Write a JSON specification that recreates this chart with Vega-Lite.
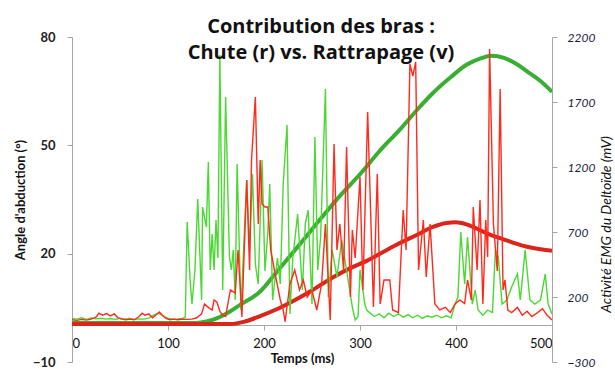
{
  "$schema": "https://vega.github.io/schema/vega-lite/v6.json",
  "autosize": "none",
  "width": 480,
  "height": 325,
  "padding": {"left": 72, "top": 37, "right": 63, "bottom": 7},
  "background": "white",
  "config": {"view": {"stroke": null}, "font": "Lato"},
  "title": {
    "text": ["Contribution des bras :", "Chute (r) vs. Rattrapage (v)"],
    "font": "Open Sans",
    "fontSize": 20,
    "fontWeight": "bold",
    "color": "#111111",
    "lineHeight": 26,
    "anchor": "middle",
    "dx": 9,
    "offset": -32
  },
  "datasets": {
    "angle": [
      {"t": 0, "a": 0.8, "s": "Rattrapage angle"}, {"t": 130, "a": 0.8, "s": "Rattrapage angle"}, {"t": 140, "a": 1.2, "s": "Rattrapage angle"}, {"t": 150, "a": 2, "s": "Rattrapage angle"}, {"t": 161, "a": 3.4, "s": "Rattrapage angle"}, {"t": 175, "a": 5.8, "s": "Rattrapage angle"}, {"t": 196, "a": 9.5, "s": "Rattrapage angle"}, {"t": 215, "a": 15.5, "s": "Rattrapage angle"}, {"t": 237, "a": 22.5, "s": "Rattrapage angle"}, {"t": 260, "a": 30, "s": "Rattrapage angle"}, {"t": 280, "a": 36.3, "s": "Rattrapage angle"}, {"t": 300, "a": 42, "s": "Rattrapage angle"}, {"t": 320, "a": 48.3, "s": "Rattrapage angle"}, {"t": 342, "a": 54.5, "s": "Rattrapage angle"}, {"t": 360, "a": 60, "s": "Rattrapage angle"}, {"t": 376, "a": 64.5, "s": "Rattrapage angle"}, {"t": 395, "a": 69, "s": "Rattrapage angle"}, {"t": 411, "a": 72.3, "s": "Rattrapage angle"}, {"t": 425, "a": 74, "s": "Rattrapage angle"}, {"t": 437, "a": 74.8, "s": "Rattrapage angle"}, {"t": 450, "a": 74.2, "s": "Rattrapage angle"}, {"t": 463, "a": 72.5, "s": "Rattrapage angle"}, {"t": 475, "a": 70.3, "s": "Rattrapage angle"}, {"t": 488, "a": 67.8, "s": "Rattrapage angle"}, {"t": 500, "a": 64.8, "s": "Rattrapage angle"},
      {"t": 0, "a": 0.5, "s": "Chute angle"}, {"t": 165, "a": 0.5, "s": "Chute angle"}, {"t": 180, "a": 1.2, "s": "Chute angle"}, {"t": 196, "a": 2.7, "s": "Chute angle"}, {"t": 215, "a": 4.8, "s": "Chute angle"}, {"t": 230, "a": 6.8, "s": "Chute angle"}, {"t": 248, "a": 9.5, "s": "Chute angle"}, {"t": 272, "a": 13.5, "s": "Chute angle"}, {"t": 290, "a": 16, "s": "Chute angle"}, {"t": 307, "a": 18, "s": "Chute angle"}, {"t": 325, "a": 20.6, "s": "Chute angle"}, {"t": 342, "a": 23, "s": "Chute angle"}, {"t": 360, "a": 25.3, "s": "Chute angle"}, {"t": 376, "a": 27.4, "s": "Chute angle"}, {"t": 390, "a": 28.5, "s": "Chute angle"}, {"t": 400, "a": 28.7, "s": "Chute angle"}, {"t": 410, "a": 28.2, "s": "Chute angle"}, {"t": 422, "a": 26.9, "s": "Chute angle"}, {"t": 434, "a": 25.4, "s": "Chute angle"}, {"t": 446, "a": 24.3, "s": "Chute angle"}, {"t": 460, "a": 23, "s": "Chute angle"}, {"t": 474, "a": 21.9, "s": "Chute angle"}, {"t": 488, "a": 21.2, "s": "Chute angle"}, {"t": 500, "a": 20.8, "s": "Chute angle"}
    ],
    "emg": [
      {"t": 0, "v": 35, "s": "Rattrapage EMG"}, {"t": 5, "v": 30, "s": "Rattrapage EMG"}, {"t": 10, "v": 40, "s": "Rattrapage EMG"}, {"t": 15, "v": 28, "s": "Rattrapage EMG"}, {"t": 20, "v": 38, "s": "Rattrapage EMG"}, {"t": 25, "v": 32, "s": "Rattrapage EMG"}, {"t": 30, "v": 36, "s": "Rattrapage EMG"}, {"t": 35, "v": 30, "s": "Rattrapage EMG"}, {"t": 40, "v": 34, "s": "Rattrapage EMG"}, {"t": 45, "v": 28, "s": "Rattrapage EMG"}, {"t": 50, "v": 36, "s": "Rattrapage EMG"}, {"t": 55, "v": 30, "s": "Rattrapage EMG"}, {"t": 60, "v": 34, "s": "Rattrapage EMG"}, {"t": 65, "v": 28, "s": "Rattrapage EMG"}, {"t": 70, "v": 32, "s": "Rattrapage EMG"}, {"t": 75, "v": 30, "s": "Rattrapage EMG"}, {"t": 80, "v": 38, "s": "Rattrapage EMG"}, {"t": 85, "v": 60, "s": "Rattrapage EMG"}, {"t": 90, "v": 75, "s": "Rattrapage EMG"}, {"t": 95, "v": 55, "s": "Rattrapage EMG"}, {"t": 100, "v": 35, "s": "Rattrapage EMG"}, {"t": 105, "v": 30, "s": "Rattrapage EMG"}, {"t": 110, "v": 32, "s": "Rattrapage EMG"}, {"t": 115, "v": 35, "s": "Rattrapage EMG"}, {"t": 118, "v": 45, "s": "Rattrapage EMG"}, {"t": 120, "v": 777, "s": "Rattrapage EMG"}, {"t": 123, "v": 330, "s": "Rattrapage EMG"}, {"t": 125, "v": 146, "s": "Rattrapage EMG"}, {"t": 128, "v": 400, "s": "Rattrapage EMG"}, {"t": 131, "v": 954, "s": "Rattrapage EMG"}, {"t": 135, "v": 177, "s": "Rattrapage EMG"}, {"t": 136, "v": 892, "s": "Rattrapage EMG"}, {"t": 140, "v": 738, "s": "Rattrapage EMG"}, {"t": 142, "v": 1238, "s": "Rattrapage EMG"}, {"t": 144, "v": 408, "s": "Rattrapage EMG"}, {"t": 146, "v": 685, "s": "Rattrapage EMG"}, {"t": 148, "v": 408, "s": "Rattrapage EMG"}, {"t": 150, "v": 792, "s": "Rattrapage EMG"}, {"t": 152, "v": 500, "s": "Rattrapage EMG"}, {"t": 154, "v": 2062, "s": "Rattrapage EMG"}, {"t": 157, "v": 254, "s": "Rattrapage EMG"}, {"t": 160, "v": 1738, "s": "Rattrapage EMG"}, {"t": 164, "v": 508, "s": "Rattrapage EMG"}, {"t": 166, "v": 408, "s": "Rattrapage EMG"}, {"t": 168, "v": 562, "s": "Rattrapage EMG"}, {"t": 170, "v": 177, "s": "Rattrapage EMG"}, {"t": 172, "v": 1223, "s": "Rattrapage EMG"}, {"t": 176, "v": 100, "s": "Rattrapage EMG"}, {"t": 179, "v": 608, "s": "Rattrapage EMG"}, {"t": 182, "v": 1100, "s": "Rattrapage EMG"}, {"t": 185, "v": 562, "s": "Rattrapage EMG"}, {"t": 188, "v": 1146, "s": "Rattrapage EMG"}, {"t": 191, "v": 454, "s": "Rattrapage EMG"}, {"t": 194, "v": 300, "s": "Rattrapage EMG"}, {"t": 198, "v": 1254, "s": "Rattrapage EMG"}, {"t": 201, "v": 400, "s": "Rattrapage EMG"}, {"t": 204, "v": 700, "s": "Rattrapage EMG"}, {"t": 206, "v": 1069, "s": "Rattrapage EMG"}, {"t": 209, "v": 177, "s": "Rattrapage EMG"}, {"t": 214, "v": 500, "s": "Rattrapage EMG"}, {"t": 217, "v": 300, "s": "Rattrapage EMG"}, {"t": 220, "v": 1069, "s": "Rattrapage EMG"}, {"t": 224, "v": 1523, "s": "Rattrapage EMG"}, {"t": 227, "v": 69, "s": "Rattrapage EMG"}, {"t": 230, "v": 500, "s": "Rattrapage EMG"}, {"t": 233, "v": 700, "s": "Rattrapage EMG"}, {"t": 235, "v": 838, "s": "Rattrapage EMG"}, {"t": 240, "v": 254, "s": "Rattrapage EMG"}, {"t": 243, "v": 762, "s": "Rattrapage EMG"}, {"t": 246, "v": 869, "s": "Rattrapage EMG"}, {"t": 250, "v": 146, "s": "Rattrapage EMG"}, {"t": 253, "v": 1431, "s": "Rattrapage EMG"}, {"t": 256, "v": 408, "s": "Rattrapage EMG"}, {"t": 259, "v": 662, "s": "Rattrapage EMG"}, {"t": 264, "v": 1800, "s": "Rattrapage EMG"}, {"t": 267, "v": 200, "s": "Rattrapage EMG"}, {"t": 271, "v": 562, "s": "Rattrapage EMG"}, {"t": 276, "v": 354, "s": "Rattrapage EMG"}, {"t": 281, "v": 638, "s": "Rattrapage EMG"}, {"t": 286, "v": 408, "s": "Rattrapage EMG"}, {"t": 292, "v": 123, "s": "Rattrapage EMG"}, {"t": 295, "v": 23, "s": "Rattrapage EMG"}, {"t": 298, "v": 50, "s": "Rattrapage EMG"}, {"t": 300, "v": 408, "s": "Rattrapage EMG"}, {"t": 303, "v": 254, "s": "Rattrapage EMG"}, {"t": 305, "v": 146, "s": "Rattrapage EMG"}, {"t": 307, "v": 100, "s": "Rattrapage EMG"}, {"t": 310, "v": 80, "s": "Rattrapage EMG"}, {"t": 315, "v": 50, "s": "Rattrapage EMG"}, {"t": 320, "v": 70, "s": "Rattrapage EMG"}, {"t": 325, "v": 40, "s": "Rattrapage EMG"}, {"t": 330, "v": 75, "s": "Rattrapage EMG"}, {"t": 335, "v": 50, "s": "Rattrapage EMG"}, {"t": 340, "v": 70, "s": "Rattrapage EMG"}, {"t": 345, "v": 45, "s": "Rattrapage EMG"}, {"t": 350, "v": 65, "s": "Rattrapage EMG"}, {"t": 355, "v": 40, "s": "Rattrapage EMG"}, {"t": 360, "v": 60, "s": "Rattrapage EMG"}, {"t": 365, "v": 35, "s": "Rattrapage EMG"}, {"t": 370, "v": 55, "s": "Rattrapage EMG"}, {"t": 375, "v": 45, "s": "Rattrapage EMG"}, {"t": 380, "v": 60, "s": "Rattrapage EMG"}, {"t": 385, "v": 40, "s": "Rattrapage EMG"}, {"t": 390, "v": 55, "s": "Rattrapage EMG"}, {"t": 395, "v": 40, "s": "Rattrapage EMG"}, {"t": 399, "v": 146, "s": "Rattrapage EMG"}, {"t": 402, "v": 200, "s": "Rattrapage EMG"}, {"t": 405, "v": 700, "s": "Rattrapage EMG"}, {"t": 409, "v": 300, "s": "Rattrapage EMG"}, {"t": 412, "v": 662, "s": "Rattrapage EMG"}, {"t": 417, "v": 146, "s": "Rattrapage EMG"}, {"t": 420, "v": 254, "s": "Rattrapage EMG"}, {"t": 423, "v": 100, "s": "Rattrapage EMG"}, {"t": 428, "v": 60, "s": "Rattrapage EMG"}, {"t": 433, "v": 100, "s": "Rattrapage EMG"}, {"t": 438, "v": 80, "s": "Rattrapage EMG"}, {"t": 441, "v": 562, "s": "Rattrapage EMG"}, {"t": 444, "v": 510, "s": "Rattrapage EMG"}, {"t": 448, "v": 146, "s": "Rattrapage EMG"}, {"t": 453, "v": 177, "s": "Rattrapage EMG"}, {"t": 458, "v": 277, "s": "Rattrapage EMG"}, {"t": 464, "v": 377, "s": "Rattrapage EMG"}, {"t": 467, "v": 177, "s": "Rattrapage EMG"}, {"t": 472, "v": 562, "s": "Rattrapage EMG"}, {"t": 477, "v": 177, "s": "Rattrapage EMG"}, {"t": 482, "v": 146, "s": "Rattrapage EMG"}, {"t": 488, "v": 177, "s": "Rattrapage EMG"}, {"t": 493, "v": 377, "s": "Rattrapage EMG"}, {"t": 496, "v": 146, "s": "Rattrapage EMG"}, {"t": 500, "v": 69, "s": "Rattrapage EMG"},
      {"t": 0, "v": 25, "s": "Chute EMG"}, {"t": 5, "v": 20, "s": "Chute EMG"}, {"t": 10, "v": 28, "s": "Chute EMG"}, {"t": 15, "v": 22, "s": "Chute EMG"}, {"t": 20, "v": 30, "s": "Chute EMG"}, {"t": 25, "v": 45, "s": "Chute EMG"}, {"t": 28, "v": 75, "s": "Chute EMG"}, {"t": 32, "v": 60, "s": "Chute EMG"}, {"t": 36, "v": 72, "s": "Chute EMG"}, {"t": 40, "v": 55, "s": "Chute EMG"}, {"t": 44, "v": 70, "s": "Chute EMG"}, {"t": 48, "v": 40, "s": "Chute EMG"}, {"t": 52, "v": 30, "s": "Chute EMG"}, {"t": 56, "v": 25, "s": "Chute EMG"}, {"t": 60, "v": 30, "s": "Chute EMG"}, {"t": 65, "v": 25, "s": "Chute EMG"}, {"t": 70, "v": 50, "s": "Chute EMG"}, {"t": 73, "v": 75, "s": "Chute EMG"}, {"t": 76, "v": 60, "s": "Chute EMG"}, {"t": 80, "v": 70, "s": "Chute EMG"}, {"t": 84, "v": 40, "s": "Chute EMG"}, {"t": 88, "v": 65, "s": "Chute EMG"}, {"t": 91, "v": 85, "s": "Chute EMG"}, {"t": 94, "v": 60, "s": "Chute EMG"}, {"t": 98, "v": 35, "s": "Chute EMG"}, {"t": 102, "v": 25, "s": "Chute EMG"}, {"t": 106, "v": 30, "s": "Chute EMG"}, {"t": 110, "v": 25, "s": "Chute EMG"}, {"t": 115, "v": 30, "s": "Chute EMG"}, {"t": 120, "v": 28, "s": "Chute EMG"}, {"t": 125, "v": 30, "s": "Chute EMG"}, {"t": 130, "v": 40, "s": "Chute EMG"}, {"t": 135, "v": 70, "s": "Chute EMG"}, {"t": 138, "v": 146, "s": "Chute EMG"}, {"t": 142, "v": 120, "s": "Chute EMG"}, {"t": 146, "v": 100, "s": "Chute EMG"}, {"t": 148, "v": 177, "s": "Chute EMG"}, {"t": 151, "v": 160, "s": "Chute EMG"}, {"t": 154, "v": 90, "s": "Chute EMG"}, {"t": 157, "v": 60, "s": "Chute EMG"}, {"t": 160, "v": 50, "s": "Chute EMG"}, {"t": 165, "v": 254, "s": "Chute EMG"}, {"t": 170, "v": 230, "s": "Chute EMG"}, {"t": 173, "v": 562, "s": "Chute EMG"}, {"t": 177, "v": 46, "s": "Chute EMG"}, {"t": 182, "v": 1100, "s": "Chute EMG"}, {"t": 185, "v": 408, "s": "Chute EMG"}, {"t": 187, "v": 1254, "s": "Chute EMG"}, {"t": 191, "v": 1738, "s": "Chute EMG"}, {"t": 194, "v": 762, "s": "Chute EMG"}, {"t": 196, "v": 1254, "s": "Chute EMG"}, {"t": 198, "v": 915, "s": "Chute EMG"}, {"t": 201, "v": 892, "s": "Chute EMG"}, {"t": 204, "v": 892, "s": "Chute EMG"}, {"t": 207, "v": 562, "s": "Chute EMG"}, {"t": 211, "v": 400, "s": "Chute EMG"}, {"t": 217, "v": 177, "s": "Chute EMG"}, {"t": 220, "v": 100, "s": "Chute EMG"}, {"t": 222, "v": 10, "s": "Chute EMG"}, {"t": 227, "v": 300, "s": "Chute EMG"}, {"t": 232, "v": 408, "s": "Chute EMG"}, {"t": 237, "v": 254, "s": "Chute EMG"}, {"t": 241, "v": 330, "s": "Chute EMG"}, {"t": 245, "v": 200, "s": "Chute EMG"}, {"t": 250, "v": 250, "s": "Chute EMG"}, {"t": 255, "v": 100, "s": "Chute EMG"}, {"t": 260, "v": 300, "s": "Chute EMG"}, {"t": 264, "v": 762, "s": "Chute EMG"}, {"t": 269, "v": 23, "s": "Chute EMG"}, {"t": 273, "v": 1377, "s": "Chute EMG"}, {"t": 276, "v": 562, "s": "Chute EMG"}, {"t": 279, "v": 762, "s": "Chute EMG"}, {"t": 283, "v": 400, "s": "Chute EMG"}, {"t": 286, "v": 1354, "s": "Chute EMG"}, {"t": 290, "v": 200, "s": "Chute EMG"}, {"t": 292, "v": 715, "s": "Chute EMG"}, {"t": 295, "v": 500, "s": "Chute EMG"}, {"t": 300, "v": 1123, "s": "Chute EMG"}, {"t": 303, "v": 254, "s": "Chute EMG"}, {"t": 308, "v": 1623, "s": "Chute EMG"}, {"t": 314, "v": 123, "s": "Chute EMG"}, {"t": 318, "v": 1146, "s": "Chute EMG"}, {"t": 321, "v": 146, "s": "Chute EMG"}, {"t": 325, "v": 331, "s": "Chute EMG"}, {"t": 331, "v": 331, "s": "Chute EMG"}, {"t": 334, "v": 100, "s": "Chute EMG"}, {"t": 340, "v": 80, "s": "Chute EMG"}, {"t": 345, "v": 869, "s": "Chute EMG"}, {"t": 348, "v": 562, "s": "Chute EMG"}, {"t": 352, "v": 1992, "s": "Chute EMG"}, {"t": 355, "v": 1900, "s": "Chute EMG"}, {"t": 358, "v": 2008, "s": "Chute EMG"}, {"t": 361, "v": 408, "s": "Chute EMG"}, {"t": 366, "v": 792, "s": "Chute EMG"}, {"t": 369, "v": 354, "s": "Chute EMG"}, {"t": 373, "v": 762, "s": "Chute EMG"}, {"t": 378, "v": 146, "s": "Chute EMG"}, {"t": 383, "v": 100, "s": "Chute EMG"}, {"t": 389, "v": 120, "s": "Chute EMG"}, {"t": 394, "v": 80, "s": "Chute EMG"}, {"t": 399, "v": 146, "s": "Chute EMG"}, {"t": 404, "v": 177, "s": "Chute EMG"}, {"t": 409, "v": 150, "s": "Chute EMG"}, {"t": 412, "v": 331, "s": "Chute EMG"}, {"t": 416, "v": 177, "s": "Chute EMG"}, {"t": 418, "v": 892, "s": "Chute EMG"}, {"t": 422, "v": 408, "s": "Chute EMG"}, {"t": 425, "v": 946, "s": "Chute EMG"}, {"t": 428, "v": 146, "s": "Chute EMG"}, {"t": 431, "v": 792, "s": "Chute EMG"}, {"t": 433, "v": 508, "s": "Chute EMG"}, {"t": 435, "v": 2108, "s": "Chute EMG"}, {"t": 439, "v": 762, "s": "Chute EMG"}, {"t": 443, "v": 400, "s": "Chute EMG"}, {"t": 446, "v": 1800, "s": "Chute EMG"}, {"t": 449, "v": 254, "s": "Chute EMG"}, {"t": 451, "v": 331, "s": "Chute EMG"}, {"t": 454, "v": 100, "s": "Chute EMG"}, {"t": 458, "v": 80, "s": "Chute EMG"}, {"t": 464, "v": 120, "s": "Chute EMG"}, {"t": 469, "v": 60, "s": "Chute EMG"}, {"t": 474, "v": 90, "s": "Chute EMG"}, {"t": 479, "v": 50, "s": "Chute EMG"}, {"t": 485, "v": 80, "s": "Chute EMG"}, {"t": 490, "v": 110, "s": "Chute EMG"}, {"t": 495, "v": 60, "s": "Chute EMG"}, {"t": 500, "v": 23, "s": "Chute EMG"}
    ]
  },
  "layer": [
    {
      "data": {"name": "angle"},
      "mark": {"type": "line", "strokeWidth": 4, "interpolate": "monotone", "clip": true},
      "encoding": {
        "x": {
          "field": "t", "type": "quantitative",
          "scale": {"domain": [0, 500], "nice": false},
          "axis": {
            "title": "Temps (ms)",
            "values": [0, 100, 200, 300, 400, 500],
            "offset": -37,
            "domainColor": "#a6a6a6",
            "tickColor": "#a6a6a6",
            "tickSize": 5,
            "labelFont": "Lato",
            "labelFontSize": 13,
            "labelColor": "#111111",
            "labelPadding": 7,
            "grid": false,
            "titleFont": "Lato",
            "titleFontSize": 13,
            "titleFontWeight": "bold",
            "titleColor": "#111111",
            "titleX": 230,
            "titleY": 33,
            "titleBaseline": "middle"
          }
        },
        "y": {
          "field": "a", "type": "quantitative",
          "scale": {"domain": [-10, 80], "nice": false, "zero": false},
          "axis": {
            "title": "Angle d'abduction (°)",
            "orient": "left",
            "values": [-10, 20, 50, 80],
            "domainColor": "#a6a6a6",
            "tickColor": "#a6a6a6",
            "tickSize": 5,
            "labelFont": "Lato",
            "labelFontSize": 13,
            "labelFontWeight": "bold",
            "labelColor": "#222222",
            "labelPadding": 12,
            "grid": false,
            "titleFont": "Lato",
            "titleFontSize": 13,
            "titleFontWeight": "bold",
            "titleColor": "#111111",
            "titleX": -52,
            "titleBaseline": "middle"
          }
        },
        "color": {
          "field": "s", "type": "nominal",
          "scale": {
            "domain": ["Rattrapage angle", "Chute angle", "Rattrapage EMG", "Chute EMG"],
            "range": ["#3aae34", "#d8261b", "#4bd832", "#ff2a1c"]
          },
          "legend": null
        }
      }
    },
    {
      "data": {"name": "emg"},
      "mark": {"type": "line", "strokeWidth": 1.4, "clip": true},
      "encoding": {
        "x": {"field": "t", "type": "quantitative", "scale": {"domain": [0, 500], "nice": false}},
        "y": {
          "field": "v", "type": "quantitative",
          "scale": {"domain": [-300, 2200], "nice": false, "zero": false},
          "axis": {
            "title": "Activité EMG du Deltoïde (mV)",
            "orient": "right",
            "values": [-300, 200, 700, 1200, 1700, 2200],
            "format": "d",
            "domainColor": "#a6a6a6",
            "tickColor": "#a6a6a6",
            "tickSize": 5,
            "labelFont": "Lato",
            "labelFontSize": 12,
            "labelFontStyle": "italic",
            "labelColor": "#1c1c3c",
            "labelPadding": 10,
            "grid": false,
            "titleFont": "Lato",
            "titleFontSize": 14,
            "titleFontStyle": "italic",
            "titleFontWeight": "normal",
            "titleColor": "#111111",
            "titleAngle": 270,
            "titleX": 54,
            "titleY": 187,
            "titleBaseline": "middle"
          }
        },
        "color": {"field": "s", "type": "nominal", "legend": null}
      }
    }
  ],
  "resolve": {"scale": {"y": "independent"}}
}
